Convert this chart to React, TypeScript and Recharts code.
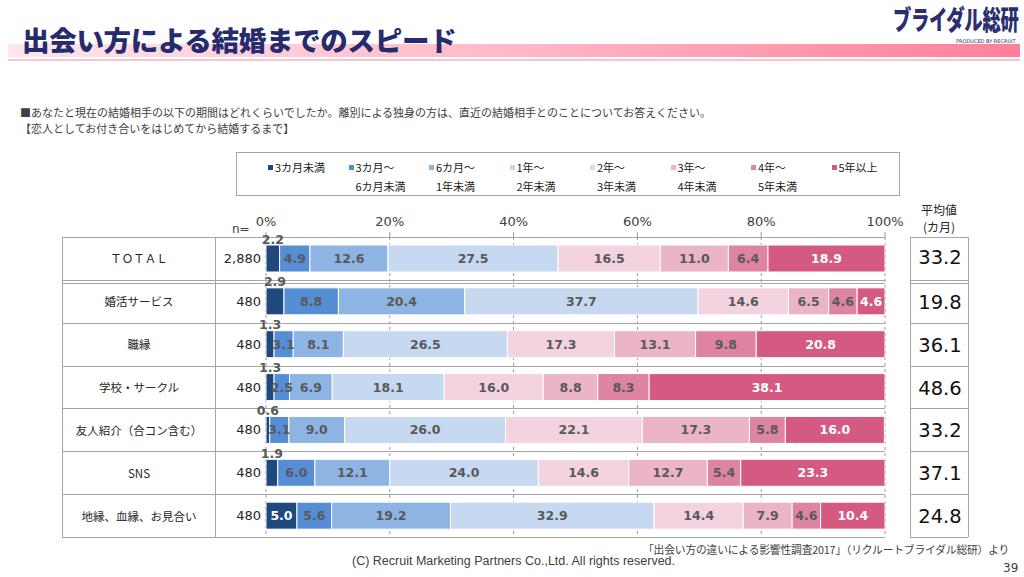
import React from 'react';
import { BarChart, Bar, XAxis, YAxis, CartesianGrid, LabelList } from 'recharts';

const categories = ['ＴＯＴＡＬ', '婚活サービス', '職縁', '学校・サークル', '友人紹介（合コン含む）', 'SNS', '地縁、血縁、お見合い'];
const sampleSizes = ['2,880', '480', '480', '480', '480', '480', '480'];
const means = ['33.2', '19.8', '36.1', '48.6', '33.2', '37.1', '24.8'];

const seriesKeys = ['s1', 's2', 's3', 's4', 's5', 's6', 's7', 's8'];
const seriesNames = [
  ['3カ月未満'],
  ['3カ月～', '6カ月未満'],
  ['6カ月～', '1年未満'],
  ['1年～', '2年未満'],
  ['2年～', '3年未満'],
  ['3年～', '4年未満'],
  ['4年～', '5年未満'],
  ['5年以上'],
];
const COLORS = ['#1f497d', '#558ed5', '#8eb4e3', '#c6d9f1', '#f2d3df', '#ebb4c7', '#df83a3', '#d45a82'];

const under3m = [2.2, 2.9, 1.3, 1.3, 0.6, 1.9, 5.0];
const m3to6 = [4.9, 8.8, 3.1, 2.5, 3.1, 6.0, 5.6];
const m6to1y = [12.6, 20.4, 8.1, 6.9, 9.0, 12.1, 19.2];
const y1to2 = [27.5, 37.7, 26.5, 18.1, 26.0, 24.0, 32.9];
const y2to3 = [16.5, 14.6, 17.3, 16.0, 22.1, 14.6, 14.4];
const y3to4 = [11.0, 6.5, 13.1, 8.8, 17.3, 12.7, 7.9];
const y4to5 = [6.4, 4.6, 9.8, 8.3, 5.8, 5.4, 4.6];
const over5y = [18.9, 4.6, 20.8, 38.1, 16.0, 23.3, 10.4];

const xTicks = [0, 20, 40, 60, 80, 100];

const seriesValues = [under3m, m3to6, m6to1y, y1to2, y2to3, y3to4, y4to5, over5y];
const data = categories.map((name, i) => {
  const row: any = { name, idx: i };
  seriesKeys.forEach((k, j) => (row[k] = seriesValues[j][i]));
  return row;
});

const NUM_FONT = '"DejaVu Sans", "Noto Sans CJK JP", sans-serif';
const JP_FONT = '"Noto Sans CJK JP", "DejaVu Sans", sans-serif';
const LINE = '#a6a6a6';

// plot box
const PLOT_TOP = 237;
const PLOT_BOTTOM = 537;
const PLOT_RIGHT = 885;
const ROW_H = (PLOT_BOTTOM - PLOT_TOP) / categories.length;

const makeLabel = (seriesIndex: number) => (props: any) => {
  const { x, y, width, height, value } = props;
  if (value == null) return null;
  const txt = Number(value).toFixed(1);
  const isFirst = seriesIndex === 0;
  const isLast = seriesIndex === seriesKeys.length - 1;
  const above = isFirst && value < 4;
  const fill = isLast || (isFirst && !above) ? '#ffffff' : '#595959';
  return (
    <text
      x={x + width / 2}
      y={above ? y - 6 : y + height / 2}
      textAnchor="middle"
      dominantBaseline="central"
      fontFamily={NUM_FONT}
      fontWeight="bold"
      fontSize={12.5}
      fill={fill}
    >
      {txt}
    </text>
  );
};

const CategoryTick = (props: any) => {
  const { y, payload, index } = props;
  const i = typeof index === 'number' ? index : categories.indexOf(payload.value);
  return (
    <g>
      <text x={139} y={y} textAnchor="middle" dominantBaseline="central" fontFamily={JP_FONT} fontSize={11.5} fill="#262626">
        {payload.value}
      </text>
      <text x={261} y={y} textAnchor="end" dominantBaseline="central" fontFamily={NUM_FONT} fontSize={13} fill="#262626">
        {sampleSizes[i]}
      </text>
    </g>
  );
};

const hLine = (top: number, left: number, width: number, key: string) => (
  <div key={key} style={{ position: 'absolute', left, top, width, height: 0, borderTop: `1.5px solid ${LINE}` }} />
);

export default function App() {
  const rowLines: React.ReactNode[] = [];
  for (let i = 0; i <= categories.length; i++) {
    const yy = Math.round(PLOT_TOP + i * ROW_H);
    rowLines.push(hLine(yy, 62, PLOT_RIGHT - 62, 'r' + i));
    rowLines.push(hLine(yy, 910, 58, 'm' + i));
    if (i === 1) {
      rowLines.push(hLine(yy + 3, 62, PLOT_RIGHT - 62, 'rd'));
      rowLines.push(hLine(yy + 3, 910, 58, 'md'));
    }
  }

  return (
    <div style={{ position: 'absolute', left: 0, top: 0, width: 1024, height: 577, background: '#fff', overflow: 'hidden', fontFamily: JP_FONT }}>
      {/* header band */}
      <div style={{ position: 'absolute', left: 8, top: 44, width: 1012, height: 13, background: 'linear-gradient(to right, #fde6ec, #ffb3c2 55%, #ff7f9a)' }} />
      <div style={{ position: 'absolute', left: 8, top: 59, width: 1012, height: 1.5, background: '#fbc3cf' }} />
      <div style={{ position: 'absolute', left: 22, top: 21, fontSize: 27.5, fontWeight: 900, color: '#262b6e', letterSpacing: -0.3, lineHeight: '36px', whiteSpace: 'nowrap' }}>
        出会い方による結婚までのスピード
      </div>
      <div style={{ position: 'absolute', right: 6, top: 0, fontSize: 27, fontWeight: 900, color: '#2b2e6e', lineHeight: '38px', whiteSpace: 'nowrap', transform: 'scaleX(0.68)', transformOrigin: 'right top', letterSpacing: -0.5 }}>
        ブライダル総研
      </div>
      <div style={{ position: 'absolute', left: 956, top: 38, fontSize: 5, lineHeight: '6px', color: '#2b2e6e', whiteSpace: 'nowrap', fontFamily: NUM_FONT }}>
        PRODUCED BY RECRUIT
      </div>

      {/* question */}
      <div style={{ position: 'absolute', left: 20, top: 104, fontSize: 11, color: '#404040', lineHeight: '16px', whiteSpace: 'nowrap' }}>
        ■あなたと現在の結婚相手の以下の期間はどれくらいでしたか。離別による独身の方は、直近の結婚相手とのことについてお答えください。
        <br />
        【恋人としてお付き合いをはじめてから結婚するまで】
      </div>

      {/* legend */}
      <div style={{ position: 'absolute', left: 236, top: 152, width: 662, height: 42, border: `1.5px solid ${LINE}` }} />
      {seriesNames.map((lines, i) => (
        <div key={i} style={{ position: 'absolute', left: 268 + i * 80.5, top: 158, fontSize: 11, color: '#1a1a1a', lineHeight: '19px', whiteSpace: 'nowrap' }}>
          <span style={{ position: 'absolute', left: 0, top: 7, width: 5, height: 5, background: COLORS[i] }} />
          {lines.map((t, k) => (
            <div key={k} style={{ marginLeft: 7 }}>{t}</div>
          ))}
        </div>
      ))}

      {/* table lines */}
      {rowLines}
      <div style={{ position: 'absolute', left: 62, top: PLOT_TOP, width: 0, height: PLOT_BOTTOM - PLOT_TOP, borderLeft: `1.5px solid ${LINE}` }} />
      <div style={{ position: 'absolute', left: 215, top: PLOT_TOP, width: 0, height: PLOT_BOTTOM - PLOT_TOP, borderLeft: `1.5px solid ${LINE}` }} />
      <div style={{ position: 'absolute', left: 910, top: PLOT_TOP, width: 0, height: PLOT_BOTTOM - PLOT_TOP, borderLeft: `1.5px solid ${LINE}` }} />
      <div style={{ position: 'absolute', left: 968, top: PLOT_TOP, width: 0, height: PLOT_BOTTOM - PLOT_TOP, borderLeft: `1.5px solid ${LINE}` }} />
      <div style={{ position: 'absolute', left: 232, top: 222, fontSize: 12, color: '#404040', fontFamily: NUM_FONT }}>n=</div>

      {/* mean column */}
      <div style={{ position: 'absolute', left: 910, top: 201, width: 58, textAlign: 'center', fontSize: 12, color: '#262626', lineHeight: '17px' }}>
        平均値
        <br />
        (カ月)
      </div>
      {means.map((m, i) => (
        <div key={i} style={{ position: 'absolute', left: 910, top: PLOT_TOP + i * ROW_H + (i === 0 ? 0 : 2), width: 60, height: ROW_H, lineHeight: `${ROW_H}px`, textAlign: 'center', fontSize: 19.5, color: '#111', fontFamily: NUM_FONT }}>
          {m}
        </div>
      ))}

      {/* chart */}
      <div style={{ position: 'absolute', left: 0, top: 0 }}>
        <BarChart
          width={1024}
          height={577}
          data={data}
          layout="vertical"
          barSize={27}
          margin={{ top: PLOT_TOP - 30, right: 1024 - PLOT_RIGHT, bottom: 577 - PLOT_BOTTOM, left: 62 }}
        >
          <CartesianGrid horizontal={false} stroke="#9a9a9a" strokeDasharray="3 3" />
          <XAxis
            type="number"
            orientation="top"
            domain={[0, 100]}
            allowDataOverflow
            ticks={xTicks}
            height={30}
            tickFormatter={(v: number) => `${v}%`}
            axisLine={false}
            tickSize={5}
            tickMargin={6}
            tickLine={{ stroke: '#9a9a9a' }}
            tick={{ fontSize: 13, fill: '#404040', fontFamily: NUM_FONT }}
          />
          <YAxis type="category" dataKey="name" width={204} axisLine={false} tickLine={false} tick={<CategoryTick />} interval={0} />
          {seriesKeys.map((k, i) => (
            <Bar key={k} dataKey={k} stackId="a" fill={COLORS[i]} stroke="#ffffff" strokeWidth={1} isAnimationActive={false}>
              <LabelList dataKey={k} content={makeLabel(i)} />
            </Bar>
          ))}
        </BarChart>
      </div>

      {/* footer */}
      <div style={{ position: 'absolute', left: 643, top: 541, fontSize: 10.8, color: '#404040', whiteSpace: 'nowrap', letterSpacing: -0.2 }}>
        「出会い方の違いによる影響性調査2017」（リクルートブライダル総研）より
      </div>
      <div style={{ position: 'absolute', left: 352, top: 554, fontSize: 12.5, color: '#404040', whiteSpace: 'nowrap', fontFamily: '"Liberation Sans Narrow", "Liberation Sans", sans-serif' }}>
        (C) Recruit Marketing Partners Co.,Ltd. All rights reserved.
      </div>
      <div style={{ position: 'absolute', left: 1003, top: 561, fontSize: 12, color: '#404040', fontFamily: NUM_FONT }}>39</div>
    </div>
  );
}
